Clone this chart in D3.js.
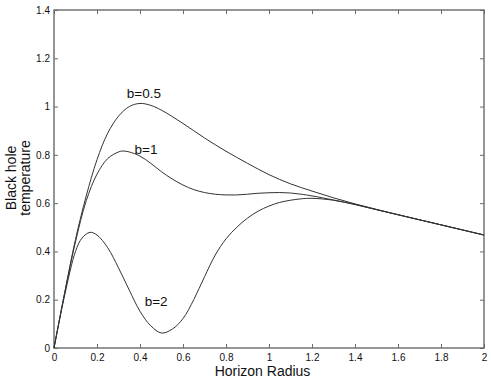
<!DOCTYPE html>
<html>
<head>
<meta charset="utf-8">
<script src="https://cdn.jsdelivr.net/npm/d3@7"></script>
<style>
  body { margin: 0; background: #fff; }
  text { font-family: "Liberation Sans", Arial, sans-serif; fill: #111; }
</style>
</head>
<body>
<div id="chart_div"></div>
<script>
// values
var xs_half = [0, 0.05, 0.1, 0.15, 0.2, 0.25, 0.3, 0.35, 0.4, 0.45, 0.5, 0.6, 0.7, 0.8, 0.9, 1.0, 1.1, 1.2, 1.3, 1.4, 1.5, 1.6, 1.7, 1.8, 1.9, 2.0];
var ys_half = [0, 0.23, 0.45, 0.63, 0.78, 0.89, 0.96, 1.0, 1.013, 1.005, 0.985, 0.93, 0.87, 0.815, 0.765, 0.718, 0.68, 0.65, 0.622, 0.597, 0.574, 0.552, 0.531, 0.51, 0.489, 0.468];

var xs_one = [0, 0.05, 0.1, 0.15, 0.2, 0.25, 0.3, 0.32, 0.35, 0.4, 0.45, 0.5, 0.55, 0.6, 0.65, 0.7, 0.75, 0.8, 0.85, 0.9, 0.95, 1.0, 1.05, 1.1, 1.15, 1.2, 1.3, 1.4, 1.5, 1.6, 1.7, 1.8, 1.9, 2.0];
var ys_one = [0, 0.23, 0.44, 0.61, 0.72, 0.785, 0.812, 0.816, 0.812, 0.795, 0.765, 0.73, 0.70, 0.675, 0.656, 0.644, 0.637, 0.634, 0.634, 0.637, 0.641, 0.643, 0.644, 0.642, 0.637, 0.63, 0.613, 0.595, 0.573, 0.552, 0.531, 0.51, 0.489, 0.468];

var xs_two = [0, 0.05, 0.1, 0.13, 0.167, 0.2, 0.25, 0.3, 0.35, 0.4, 0.45, 0.5, 0.55, 0.6, 0.65, 0.7, 0.75, 0.8, 0.85, 0.9, 0.95, 1.0, 1.05, 1.1, 1.15, 1.2, 1.3, 1.4, 1.5, 1.6, 1.7, 1.8, 1.9, 2.0];
var ys_two = [0, 0.22, 0.40, 0.455, 0.479, 0.468, 0.415, 0.332, 0.24, 0.152, 0.092, 0.062, 0.078, 0.122, 0.2, 0.295, 0.385, 0.452, 0.5, 0.538, 0.567, 0.588, 0.603, 0.612, 0.618, 0.62, 0.612, 0.594, 0.573, 0.552, 0.531, 0.51, 0.489, 0.468];

var series_names = ['b=0.5', 'b=1', 'b=2'];
var label_x = [0.418, 0.428, 0.475];
var label_y = [1.036, 0.804, 0.175];

var x_ticks = [0, 0.2, 0.4, 0.6, 0.8, 1, 1.2, 1.4, 1.6, 1.8, 2];
var y_ticks = [0, 0.2, 0.4, 0.6, 0.8, 1, 1.2, 1.4];

var w = 491, h = 380;
var margin = {top: 10, right: 7, bottom: 32, left: 54};

var chart = d3.select('#chart_div')
    .append('svg')
    .attr('width', w)
    .attr('height', h);

var x = d3.scaleLinear().domain([0, 2]).range([margin.left, w - margin.right]);
var y = d3.scaleLinear().domain([0, 1.4]).range([h - margin.bottom, margin.top]);

var frame_color = '#6a6a6a';

// bottom / left axes with inward ticks
var xAxis = chart.append('g')
    .attr('transform', 'translate(0,' + (h - margin.bottom) + ')')
    .call(d3.axisBottom(x).tickValues(x_ticks).tickSize(-4).tickPadding(6)
        .tickFormat(function(d){ return d3.format('~g')(d); }));
var yAxis = chart.append('g')
    .attr('transform', 'translate(' + margin.left + ',0)')
    .call(d3.axisLeft(y).tickValues(y_ticks).tickSize(-4).tickPadding(4)
        .tickFormat(function(d){ return d3.format('~g')(d); }));
// top / right ticks, no labels
var xTop = chart.append('g')
    .attr('transform', 'translate(0,' + margin.top + ')')
    .call(d3.axisTop(x).tickValues(x_ticks).tickSize(-4).tickFormat(''));
var yRight = chart.append('g')
    .attr('transform', 'translate(' + (w - margin.right) + ',0)')
    .call(d3.axisRight(y).tickValues(y_ticks).tickSize(-4).tickFormat(''));

[xAxis, yAxis, xTop, yRight].forEach(function(g){
    g.select('.domain').remove();
    g.selectAll('line').attr('stroke', frame_color).attr('stroke-width', 1);
    g.selectAll('text').style('font-size', '10px').attr('fill', '#222');
});

chart.append('rect')
    .attr('x', margin.left)
    .attr('y', margin.top)
    .attr('width', w - margin.left - margin.right)
    .attr('height', h - margin.top - margin.bottom)
    .attr('fill', 'none')
    .attr('stroke', frame_color)
    .attr('stroke-width', 1.4);

// curves
var line = d3.line()
    .x(function(d){ return x(d[0]); })
    .y(function(d){ return y(d[1]); })
    .curve(d3.curveCatmullRom.alpha(0.5));

var all_series = [[xs_half, ys_half], [xs_one, ys_one], [xs_two, ys_two]];
for (var i = 0; i < all_series.length; i++){
    var pts = d3.zip(all_series[i][0], all_series[i][1]);
    chart.append('path')
        .datum(pts)
        .attr('d', line)
        .attr('fill', 'none')
        .attr('stroke', '#333')
        .attr('stroke-width', 1);

    chart.append('text')
        .attr('x', x(label_x[i]))
        .attr('y', y(label_y[i]))
        .attr('text-anchor', 'middle')
        .style('font-size', '13.5px')
        .text(series_names[i]);
}

// axis titles
chart.append('text')
    .attr('x', 262.5)
    .attr('y', 376)
    .attr('text-anchor', 'middle')
    .style('font-size', '14px')
    .text('Horizon Radius');

chart.append('text')
    .attr('transform', 'translate(15.5,178) rotate(-90)')
    .attr('text-anchor', 'middle')
    .style('font-size', '14px')
    .text('Black hole');

chart.append('text')
    .attr('transform', 'translate(30,178) rotate(-90)')
    .attr('text-anchor', 'middle')
    .style('font-size', '14px')
    .text('temperature');
</script>
</body>
</html>
